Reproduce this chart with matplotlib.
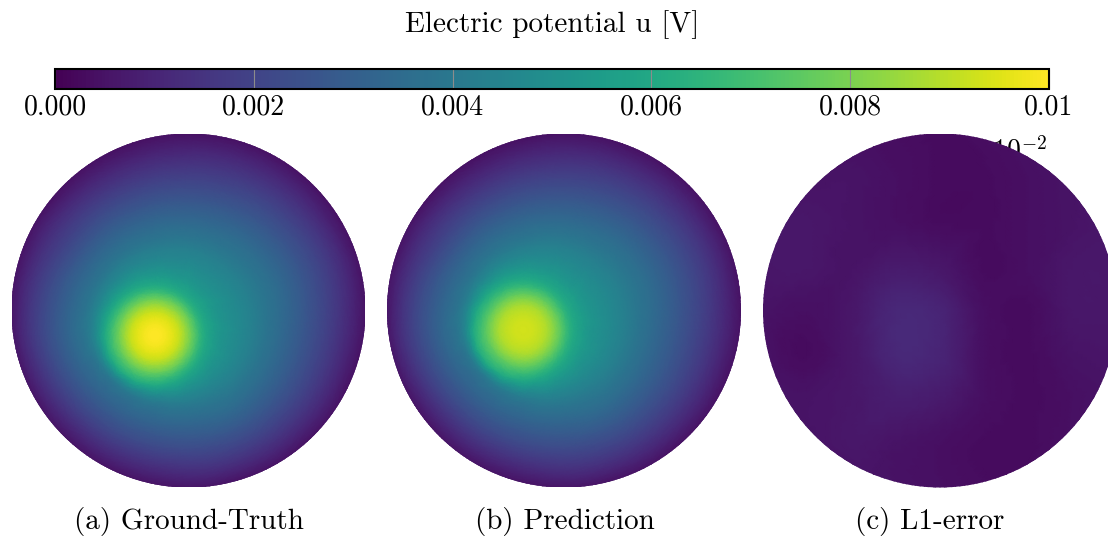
import numpy as np
import matplotlib
matplotlib.use("Agg")
import matplotlib.pyplot as plt
import matplotlib.tri as mtri
from matplotlib.colors import Normalize
from matplotlib.cm import ScalarMappable
from matplotlib.patches import Circle

plt.rcParams['font.family'] = 'serif'
plt.rcParams['font.serif'] = ['cmr10']
plt.rcParams['mathtext.fontset'] = 'cm'
plt.rcParams['axes.formatter.use_mathtext'] = True

# ---------------- data ----------------
vmin, vmax = 0.0, 0.01
cbar_ticks = [0.0, 0.002, 0.004, 0.006, 0.008, 0.01]
cbar_ticklabels = ["0.000", "0.002", "0.004", "0.006", "0.008", "0.01"]
cbar_label = "Electric potential u [V]"
offset_label = r"$\times10^{-2}$"
captions = ["(a) Ground-Truth", "(b) Prediction", "(c) L1-error"]

# shared sampling layout (unit-disk coordinates)
core_dist = [0.0, 0.07, 0.14, 0.21, 0.28]          # distance from source
ray_angles_deg = [0, 22.5, 45, 67.5, 90, 112.5, 135, 157.5,
                  180, 202.5, 225, 247.5, 270, 292.5, 315, 337.5]
ray_frac = [0.45, 0.6, 0.75, 0.9]                  # fraction of way to rim

# (a) ground truth [V]
gt_source = (-0.19, -0.14)
gt_core = [0.0100, 0.0098, 0.0091, 0.0077, 0.0061]
gt_outer = [
    [0.0044, 0.0034, 0.0024, 0.0013],
    [0.0044, 0.0035, 0.0025, 0.0014],
    [0.0043, 0.0034, 0.0024, 0.0013],
    [0.0042, 0.0032, 0.0022, 0.0012],
    [0.0041, 0.0031, 0.0021, 0.0011],
    [0.0041, 0.0031, 0.0021, 0.0011],
    [0.0041, 0.0031, 0.0021, 0.0012],
    [0.0042, 0.0032, 0.0023, 0.0013],
    [0.0043, 0.0033, 0.0024, 0.0014],
    [0.0042, 0.0032, 0.0023, 0.0013],
    [0.0041, 0.0031, 0.0022, 0.0012],
    [0.0041, 0.0031, 0.0022, 0.0012],
    [0.0041, 0.0031, 0.0022, 0.0012],
    [0.0042, 0.0032, 0.0023, 0.0013],
    [0.0043, 0.0034, 0.0024, 0.0013],
    [0.0044, 0.0034, 0.0024, 0.0013],
]
gt_rim = 0.0002

# (b) prediction [V]
pred_source = (-0.23, -0.11)
pred_core = [0.0093, 0.0092, 0.0087, 0.0075, 0.0061]
pred_outer = [
    [0.0044, 0.0034, 0.0024, 0.0013],
    [0.0044, 0.0035, 0.0025, 0.0014],
    [0.0043, 0.0034, 0.0024, 0.0013],
    [0.0042, 0.0032, 0.0022, 0.0012],
    [0.0041, 0.0031, 0.0021, 0.0011],
    [0.0041, 0.0031, 0.0021, 0.0011],
    [0.0041, 0.0031, 0.0021, 0.0012],
    [0.0042, 0.0032, 0.0023, 0.0013],
    [0.0043, 0.0033, 0.0024, 0.0014],
    [0.0042, 0.0032, 0.0023, 0.0013],
    [0.0041, 0.0031, 0.0022, 0.0012],
    [0.0041, 0.0031, 0.0022, 0.0012],
    [0.0041, 0.0031, 0.0022, 0.0012],
    [0.0042, 0.0032, 0.0023, 0.0013],
    [0.0043, 0.0034, 0.0024, 0.0013],
    [0.0044, 0.0034, 0.0024, 0.0013],
]
pred_rim = 0.0002

# (c) L1 error [1e-4 V] on a regular grid (rows top -> bottom)
err_x = [-1.0, -0.75, -0.5, -0.25, 0.0, 0.25, 0.5, 0.75, 1.0]
err_y = [1.0, 0.75, 0.5, 0.25, 0.0, -0.25, -0.5, -0.75, -1.0]
err_grid = [
    [4, 4, 4, 4, 3, 3, 4, 4, 4],
    [5, 5, 5, 4, 3, 3, 4, 5, 5],
    [6, 6, 5, 4, 3, 3, 4, 5, 6],
    [6, 6, 5, 7, 6, 3, 4, 6, 6],
    [5, 4, 6, 11, 10, 4, 3, 6, 6],
    [5, 3, 6, 11, 10, 4, 3, 5, 5],
    [5, 5, 6, 8, 7, 4, 3, 4, 4],
    [6, 6, 6, 5, 4, 3, 3, 4, 4],
    [5, 5, 5, 5, 4, 3, 3, 4, 4],
]
err_rim_angles_deg = ray_angles_deg
err_rim = [6, 6, 5, 4, 3, 4, 5, 6, 5, 5, 5, 5, 4, 3, 4, 5]
err_scale = 1e-4

# ---------------- figure ----------------
W, H = 1108, 538
fig = plt.figure(figsize=(W / 100, H / 100), dpi=100)
cmap = plt.get_cmap('viridis')
norm = Normalize(vmin=vmin, vmax=vmax)
RIM_R = 1.04


def px_axes(left, top, width, height, **kw):
    return fig.add_axes([left / W, 1 - (top + height) / H, width / W, height / H], **kw)


def source_mesh(source, core, outer, rim):
    sx, sy = source
    xs, ys, zs = [sx], [sy], [core[0]]
    for ang, vals in zip(np.deg2rad(ray_angles_deg), outer):
        ux, uy = np.cos(ang), np.sin(ang)
        b = sx * ux + sy * uy
        D = -b + np.sqrt(b * b - (sx * sx + sy * sy) + 1.0)
        Dr = -b + np.sqrt(b * b - (sx * sx + sy * sy) + RIM_R ** 2)
        for d, v in zip(core_dist[1:], core[1:]):
            xs.append(sx + d * ux); ys.append(sy + d * uy); zs.append(v)
        for f, v in zip(ray_frac, vals):
            xs.append(sx + f * D * ux); ys.append(sy + f * D * uy); zs.append(v)
        xs.append(sx + Dr * ux); ys.append(sy + Dr * uy); zs.append(rim)
    return np.array(xs), np.array(ys), np.array(zs)


def draw_field(ax, x, y, z, subdiv):
    tri = mtri.Triangulation(x, y)
    interp = mtri.CubicTriInterpolator(tri, z, kind='geom')
    refiner = mtri.UniformTriRefiner(tri)
    tri_f, z_f = refiner.refine_field(z, triinterpolator=interp, subdiv=subdiv)
    m = ax.tripcolor(tri_f, z_f, shading='gouraud', cmap=cmap, norm=norm)
    m.set_clip_path(Circle((0, 0), 1.0, transform=ax.transData))
    return m


R = 177
centers = [(188.5, 310.5), (564.0, 310.5), (940.0, 310.5)]
axes = [px_axes(cx - R, cy - R, 2 * R, 2 * R) for cx, cy in centers]

for ax, (src, core, outer, rim) in zip(axes[:2], [
        (gt_source, gt_core, gt_outer, gt_rim),
        (pred_source, pred_core, pred_outer, pred_rim)]):
    x, y, z = source_mesh(src, core, outer, rim)
    draw_field(ax, x, y, z, subdiv=4)

# error panel
ex, ey, ez = [], [], []
for j, yy in enumerate(err_y):
    for i, xx in enumerate(err_x):
        if xx * xx + yy * yy <= 0.85:
            ex.append(xx); ey.append(yy); ez.append(err_grid[j][i] * err_scale)
rr = 1.0 / np.cos(np.deg2rad(11.25)) + 0.01
for a, v in zip(np.deg2rad(err_rim_angles_deg), err_rim):
    ex.append(rr * np.cos(a)); ey.append(rr * np.sin(a)); ez.append(v * err_scale)
draw_field(axes[2], np.array(ex), np.array(ey), np.array(ez), subdiv=3)

for ax in axes:
    ax.set_xlim(-1, 1)
    ax.set_ylim(-1, 1)
    ax.set_aspect('equal')
    ax.axis('off')
    ax.set_zorder(2)

# colorbar
cax = px_axes(55, 69, 994, 20)
cax.set_zorder(0)
cb = fig.colorbar(ScalarMappable(norm=norm, cmap=cmap), cax=cax, orientation='horizontal')
cb.set_ticks(cbar_ticks, labels=cbar_ticklabels)
cax.tick_params(axis='x', direction='in', length=14.4, width=0.8, color='0.55',
                labelsize=20, pad=4)
cb.outline.set_linewidth(1.5)

fig.text(552 / W, 1 - 25 / H, cbar_label, ha='center', va='center', fontsize=21)
fig.text(1047 / W, 1 - 159 / H, offset_label, ha='right', va='baseline',
         fontsize=20, zorder=1)

cap_x = [189, 565, 930]
for cx, t in zip(cap_x, captions):
    fig.text(cx / W, 1 - 522 / H, t, ha='center', va='center', fontsize=21)

fig.savefig('out.png', dpi=100)
